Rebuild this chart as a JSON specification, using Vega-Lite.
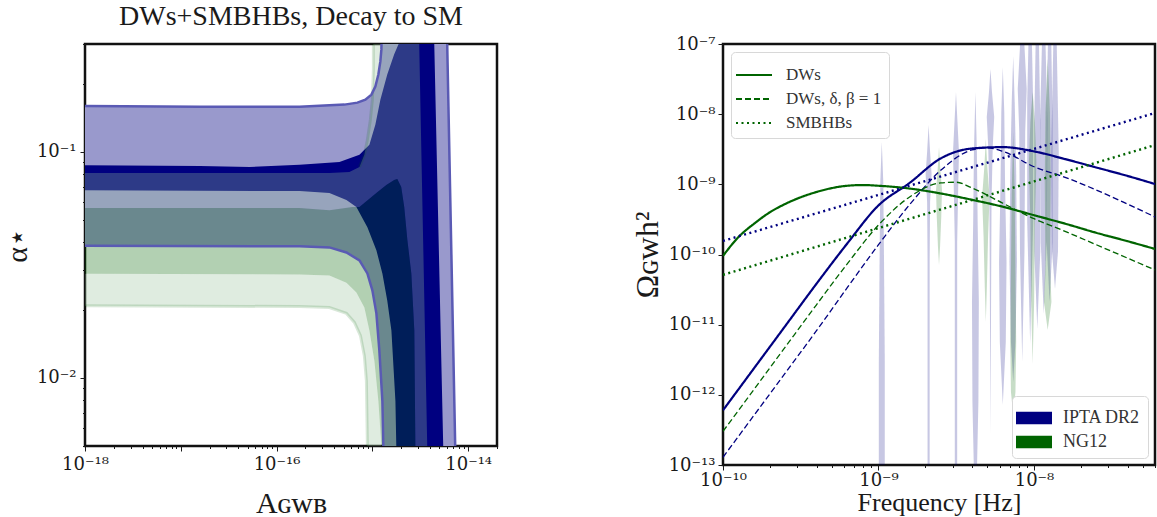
{
"$schema":"https://vega.github.io/schema/vega-lite/v6.json",
"background":"white",
"padding":{"left":1,"top":1,"right":0,"bottom":0},
"bounds":"flush",
"spacing":226,
"resolve":{"scale":{"fill":"independent","stroke":"independent","strokeDash":"independent"},"legend":{"fill":"independent","strokeDash":"independent"}},
"config":{
 "view":{"stroke":"#111111","strokeWidth":2.5},
 "font":"Liberation Serif",
 "axis":{"labelFont":"DejaVu Serif","titleFont":"Liberation Serif","labelFontSize":18,"titleFontSize":28,"titleFontWeight":"normal","labelColor":"#1a1a1a","titleColor":"#1a1a1a","tickColor":"#1a1a1a","domain":false,"grid":false,"labelOverlap":false,"labelFlush":false,"labelBound":false},
 "legend":{"labelFont":"Liberation Serif","labelFontSize":17,"labelColor":"#333333"}
},
"datasets":{
 "contours":[
  {"s":"B2","i":1,"A":1e-19,"a":0.1601},{"s":"B2","i":2,"A":1.578e-17,"a":0.1585},{"s":"B2","i":3,"A":1.738e-16,"a":0.1585},{"s":"B2","i":4,"A":5.11e-16,"a":0.1618},{"s":"B2","i":5,"A":6.98e-16,"a":0.1651},{"s":"B2","i":6,"A":8.45e-16,"a":0.1702},{"s":"B2","i":7,"A":9.77e-16,"a":0.1792},{"s":"B2","i":8,"A":1.074e-15,"a":0.1945},{"s":"B2","i":9,"A":1.155e-15,"a":0.2199},{"s":"B2","i":10,"A":1.212e-15,"a":0.2512},{"s":"B2","i":11,"A":1.242e-15,"a":0.284},{"s":"B2","i":12,"A":1.272e-15,"a":0.5},{"s":"B2","i":13,"A":5.9e-15,"a":0.5},{"s":"B2","i":14,"A":7.5e-15,"a":0.003},{"s":"B2","i":15,"A":1.334e-15,"a":0.003},{"s":"B2","i":16,"A":1.272e-15,"a":0.0079},{"s":"B2","i":17,"A":1.183e-15,"a":0.0132},{"s":"B2","i":18,"A":1.101e-15,"a":0.0193},{"s":"B2","i":19,"A":1.0e-15,"a":0.0244},{"s":"B2","i":20,"A":8.87e-16,"a":0.029},{"s":"B2","i":21,"A":7.33e-16,"a":0.0331},{"s":"B2","i":22,"A":5.36e-16,"a":0.0359},{"s":"B2","i":23,"A":3.56e-16,"a":0.0378},{"s":"B2","i":24,"A":1.738e-16,"a":0.0382},{"s":"B2","i":25,"A":1e-19,"a":0.0386},
  {"s":"B1","i":1,"A":1e-19,"a":0.0876},{"s":"B1","i":2,"A":1.578e-17,"a":0.0867},{"s":"B1","i":3,"A":5.24e-17,"a":0.0858},{"s":"B1","i":4,"A":1.738e-16,"a":0.0876},{"s":"B1","i":5,"A":4.53e-16,"a":0.0903},{"s":"B1","i":6,"A":7.33e-16,"a":0.097},{"s":"B1","i":7,"A":9.31e-16,"a":0.1074},{"s":"B1","i":8,"A":1.074e-15,"a":0.1318},{"s":"B1","i":9,"A":1.212e-15,"a":0.1702},{"s":"B1","i":10,"A":1.43e-15,"a":0.2199},{"s":"B1","i":11,"A":1.69e-15,"a":0.27},{"s":"B1","i":12,"A":1.91e-15,"a":0.305},{"s":"B1","i":13,"A":2.0e-15,"a":0.5},{"s":"B1","i":14,"A":4.31e-15,"a":0.5},{"s":"B1","i":15,"A":5.64e-15,"a":0.003},{"s":"B1","i":16,"A":1.82e-15,"a":0.003},{"s":"B1","i":17,"A":1.74e-15,"a":0.0079},{"s":"B1","i":18,"A":1.58e-15,"a":0.0162},{"s":"B1","i":19,"A":1.43e-15,"a":0.022},{"s":"B1","i":20,"A":1.272e-15,"a":0.029},{"s":"B1","i":21,"A":1.101e-15,"a":0.0367},{"s":"B1","i":22,"A":8.87e-16,"a":0.0464},{"s":"B1","i":23,"A":6.81e-16,"a":0.057},{"s":"B1","i":24,"A":5.36e-16,"a":0.0612},{"s":"B1","i":25,"A":3.56e-16,"a":0.0657},{"s":"B1","i":26,"A":1.738e-16,"a":0.0671},{"s":"B1","i":27,"A":1e-19,"a":0.0678},
  {"s":"G2U","i":1,"A":1e-19,"a":0.0807},{"s":"G2U","i":2,"A":3.56e-16,"a":0.0807},{"s":"G2U","i":3,"A":5.75e-16,"a":0.0815},{"s":"G2U","i":4,"A":7.33e-16,"a":0.0858},{"s":"G2U","i":5,"A":8.25e-16,"a":0.097},{"s":"G2U","i":6,"A":8.87e-16,"a":0.113},{"s":"G2U","i":7,"A":9.53e-16,"a":0.1388},{"s":"G2U","i":8,"A":1.0e-15,"a":0.1702},{"s":"G2U","i":9,"A":1.024e-15,"a":0.2314},{"s":"G2U","i":10,"A":1.024e-15,"a":0.5},{"s":"G2U","i":11,"A":3.01e-15,"a":0.5},{"s":"G2U","i":12,"A":3.83e-15,"a":0.003},{"s":"G2U","i":13,"A":2.81e-15,"a":0.003},{"s":"G2U","i":14,"A":2.81e-15,"a":0.00499},{"s":"G2U","i":15,"A":2.74e-15,"a":0.0162},{"s":"G2U","i":16,"A":2.55e-15,"a":0.029},{"s":"G2U","i":17,"A":2.32e-15,"a":0.0406},{"s":"G2U","i":18,"A":2.15e-15,"a":0.057},{"s":"G2U","i":19,"A":2.0e-15,"a":0.0699},{"s":"G2U","i":20,"A":1.82e-15,"a":0.0759},{"s":"G2U","i":21,"A":1.69e-15,"a":0.0751},{"s":"G2U","i":22,"A":1.4e-15,"a":0.0713},{"s":"G2U","i":23,"A":1.101e-15,"a":0.0657},{"s":"G2U","i":24,"A":7.33e-16,"a":0.057},{"s":"G2U","i":25,"A":6.19e-16,"a":0.057},{"s":"G2U","i":26,"A":3.56e-16,"a":0.0552},{"s":"G2U","i":27,"A":1.738e-16,"a":0.0564},{"s":"G2U","i":28,"A":1e-19,"a":0.0564},
  {"s":"G2L","i":1,"A":1e-19,"a":0.029},{"s":"G2L","i":2,"A":1.738e-16,"a":0.0287},{"s":"G2L","i":3,"A":3.56e-16,"a":0.0284},{"s":"G2L","i":4,"A":5.36e-16,"a":0.0264},{"s":"G2L","i":5,"A":6.81e-16,"a":0.0239},{"s":"G2L","i":6,"A":8.25e-16,"a":0.0205},{"s":"G2L","i":7,"A":9.31e-16,"a":0.0162},{"s":"G2L","i":8,"A":1.049e-15,"a":0.0119},{"s":"G2L","i":9,"A":1.155e-15,"a":0.0079},{"s":"G2L","i":10,"A":1.242e-15,"a":0.00499},{"s":"G2L","i":11,"A":1.242e-15,"a":0.003},{"s":"G2L","i":12,"A":8.87e-16,"a":0.003},{"s":"G2L","i":13,"A":8.87e-16,"a":0.00499},{"s":"G2L","i":14,"A":8.66e-16,"a":0.0097},{"s":"G2L","i":15,"A":8.25e-16,"a":0.0125},{"s":"G2L","i":16,"A":7.5e-16,"a":0.0154},{"s":"G2L","i":17,"A":6.49e-16,"a":0.0176},{"s":"G2L","i":18,"A":5.36e-16,"a":0.0193},{"s":"G2L","i":19,"A":3.56e-16,"a":0.0205},{"s":"G2L","i":20,"A":1.738e-16,"a":0.0207},{"s":"G2L","i":21,"A":1e-19,"a":0.0209},
  {"s":"G1","i":1,"A":1e-19,"a":0.0564},{"s":"G1","i":2,"A":1.738e-16,"a":0.0564},{"s":"G1","i":3,"A":3.56e-16,"a":0.0552},{"s":"G1","i":4,"A":6.19e-16,"a":0.057},{"s":"G1","i":5,"A":7.33e-16,"a":0.057},{"s":"G1","i":6,"A":1.101e-15,"a":0.0657},{"s":"G1","i":7,"A":1.4e-15,"a":0.0713},{"s":"G1","i":8,"A":1.69e-15,"a":0.0751},{"s":"G1","i":9,"A":1.82e-15,"a":0.0759},{"s":"G1","i":10,"A":2.0e-15,"a":0.0699},{"s":"G1","i":11,"A":2.15e-15,"a":0.057},{"s":"G1","i":12,"A":2.32e-15,"a":0.0406},{"s":"G1","i":13,"A":2.55e-15,"a":0.029},{"s":"G1","i":14,"A":2.74e-15,"a":0.0162},{"s":"G1","i":15,"A":2.81e-15,"a":0.00499},{"s":"G1","i":16,"A":2.81e-15,"a":0.003},{"s":"G1","i":17,"A":1.242e-15,"a":0.003},{"s":"G1","i":18,"A":1.242e-15,"a":0.00499},{"s":"G1","i":19,"A":1.155e-15,"a":0.0079},{"s":"G1","i":20,"A":1.049e-15,"a":0.0119},{"s":"G1","i":21,"A":9.31e-16,"a":0.0162},{"s":"G1","i":22,"A":8.25e-16,"a":0.0205},{"s":"G1","i":23,"A":6.81e-16,"a":0.0239},{"s":"G1","i":24,"A":5.36e-16,"a":0.0264},{"s":"G1","i":25,"A":3.56e-16,"a":0.0284},{"s":"G1","i":26,"A":1.738e-16,"a":0.0287},{"s":"G1","i":27,"A":1e-19,"a":0.029},
  {"s":"G2O1","i":1,"A":1e-19,"a":0.0209},{"s":"G2O1","i":2,"A":1.738e-16,"a":0.0207},{"s":"G2O1","i":3,"A":3.56e-16,"a":0.0205},{"s":"G2O1","i":4,"A":5.36e-16,"a":0.0193},{"s":"G2O1","i":5,"A":6.49e-16,"a":0.0176},{"s":"G2O1","i":6,"A":7.5e-16,"a":0.0154},{"s":"G2O1","i":7,"A":8.25e-16,"a":0.0125},{"s":"G2O1","i":8,"A":8.66e-16,"a":0.0097},{"s":"G2O1","i":9,"A":8.87e-16,"a":0.00499},{"s":"G2O1","i":10,"A":8.87e-16,"a":0.003},
  {"s":"G2O2","i":1,"A":7.33e-16,"a":0.0858},{"s":"G2O2","i":2,"A":8.25e-16,"a":0.097},{"s":"G2O2","i":3,"A":8.87e-16,"a":0.113},{"s":"G2O2","i":4,"A":9.53e-16,"a":0.1388},{"s":"G2O2","i":5,"A":1.0e-15,"a":0.1702},{"s":"G2O2","i":6,"A":1.024e-15,"a":0.2314},{"s":"G2O2","i":7,"A":1.024e-15,"a":0.5}
 ],
 "curves":[
  {"set":"IPTA DR2","model":"DWs","f":1e-10,"o":6.03e-13},{"set":"IPTA DR2","model":"DWs","f":1.585e-10,"o":2.4e-12},{"set":"IPTA DR2","model":"DWs","f":2.512e-10,"o":9.55e-12},{"set":"IPTA DR2","model":"DWs","f":3.981e-10,"o":3.8e-11},{"set":"IPTA DR2","model":"DWs","f":6.31e-10,"o":1.445e-10},{"set":"IPTA DR2","model":"DWs","f":1e-9,"o":5.01e-10},{"set":"IPTA DR2","model":"DWs","f":1.585e-9,"o":1.047e-9},{"set":"IPTA DR2","model":"DWs","f":2.512e-9,"o":2.34e-9},{"set":"IPTA DR2","model":"DWs","f":3.981e-9,"o":3.24e-9},{"set":"IPTA DR2","model":"DWs","f":6.31e-9,"o":3.39e-9},{"set":"IPTA DR2","model":"DWs","f":1e-8,"o":2.95e-9},{"set":"IPTA DR2","model":"DWs","f":1.585e-8,"o":2.29e-9},{"set":"IPTA DR2","model":"DWs","f":2.512e-8,"o":1.74e-9},{"set":"IPTA DR2","model":"DWs","f":3.981e-8,"o":1.32e-9},{"set":"IPTA DR2","model":"DWs","f":6e-8,"o":1.01e-9},
  {"set":"IPTA DR2","model":"DWs, δ, β = 1","f":1e-10,"o":1.29e-13},{"set":"IPTA DR2","model":"DWs, δ, β = 1","f":1.585e-10,"o":5.13e-13},{"set":"IPTA DR2","model":"DWs, δ, β = 1","f":2.512e-10,"o":2.04e-12},{"set":"IPTA DR2","model":"DWs, δ, β = 1","f":3.981e-10,"o":8.13e-12},{"set":"IPTA DR2","model":"DWs, δ, β = 1","f":6.31e-10,"o":3.39e-11},{"set":"IPTA DR2","model":"DWs, δ, β = 1","f":1e-9,"o":1.38e-10},{"set":"IPTA DR2","model":"DWs, δ, β = 1","f":1.585e-9,"o":5.13e-10},{"set":"IPTA DR2","model":"DWs, δ, β = 1","f":2.512e-9,"o":1.585e-9},{"set":"IPTA DR2","model":"DWs, δ, β = 1","f":3.981e-9,"o":3.09e-9},{"set":"IPTA DR2","model":"DWs, δ, β = 1","f":5.012e-9,"o":3.31e-9},{"set":"IPTA DR2","model":"DWs, δ, β = 1","f":6.31e-9,"o":2.95e-9},{"set":"IPTA DR2","model":"DWs, δ, β = 1","f":1e-8,"o":1.78e-9},{"set":"IPTA DR2","model":"DWs, δ, β = 1","f":1.585e-8,"o":1.26e-9},{"set":"IPTA DR2","model":"DWs, δ, β = 1","f":2.512e-8,"o":8.32e-10},{"set":"IPTA DR2","model":"DWs, δ, β = 1","f":3.981e-8,"o":5.25e-10},{"set":"IPTA DR2","model":"DWs, δ, β = 1","f":6e-8,"o":3.43e-10},
  {"set":"IPTA DR2","model":"SMBHBs","f":1e-10,"o":1.56e-10},{"set":"IPTA DR2","model":"SMBHBs","f":1e-9,"o":7.06e-10},{"set":"IPTA DR2","model":"SMBHBs","f":1e-8,"o":3.2e-9},{"set":"IPTA DR2","model":"SMBHBs","f":6e-8,"o":1.04e-8},
  {"set":"NG12","model":"DWs","f":1e-10,"o":9.55e-11},{"set":"NG12","model":"DWs","f":1.259e-10,"o":1.778e-10},{"set":"NG12","model":"DWs","f":1.585e-10,"o":2.75e-10},{"set":"NG12","model":"DWs","f":1.995e-10,"o":3.98e-10},{"set":"NG12","model":"DWs","f":2.512e-10,"o":5.25e-10},{"set":"NG12","model":"DWs","f":3.981e-10,"o":7.76e-10},{"set":"NG12","model":"DWs","f":6.31e-10,"o":9.55e-10},{"set":"NG12","model":"DWs","f":7.943e-10,"o":9.77e-10},{"set":"NG12","model":"DWs","f":1e-9,"o":9.55e-10},{"set":"NG12","model":"DWs","f":1.585e-9,"o":8.71e-10},{"set":"NG12","model":"DWs","f":2.512e-9,"o":7.41e-10},{"set":"NG12","model":"DWs","f":3.981e-9,"o":6.03e-10},{"set":"NG12","model":"DWs","f":6.31e-9,"o":4.79e-10},{"set":"NG12","model":"DWs","f":1e-8,"o":3.63e-10},{"set":"NG12","model":"DWs","f":1.585e-8,"o":2.75e-10},{"set":"NG12","model":"DWs","f":2.512e-8,"o":2.04e-10},{"set":"NG12","model":"DWs","f":3.981e-8,"o":1.55e-10},{"set":"NG12","model":"DWs","f":6e-8,"o":1.2e-10},
  {"set":"NG12","model":"DWs, δ, β = 1","f":1e-10,"o":3.02e-13},{"set":"NG12","model":"DWs, δ, β = 1","f":1.585e-10,"o":1.2e-12},{"set":"NG12","model":"DWs, δ, β = 1","f":2.512e-10,"o":4.79e-12},{"set":"NG12","model":"DWs, δ, β = 1","f":3.981e-10,"o":1.905e-11},{"set":"NG12","model":"DWs, δ, β = 1","f":6.31e-10,"o":7.41e-11},{"set":"NG12","model":"DWs, δ, β = 1","f":1e-9,"o":2.63e-10},{"set":"NG12","model":"DWs, δ, β = 1","f":1.585e-9,"o":6.61e-10},{"set":"NG12","model":"DWs, δ, β = 1","f":2.512e-9,"o":1.047e-9},{"set":"NG12","model":"DWs, δ, β = 1","f":3.162e-9,"o":1.072e-9},{"set":"NG12","model":"DWs, δ, β = 1","f":3.981e-9,"o":8.91e-10},{"set":"NG12","model":"DWs, δ, β = 1","f":6.31e-9,"o":5.37e-10},{"set":"NG12","model":"DWs, δ, β = 1","f":1e-8,"o":3.24e-10},{"set":"NG12","model":"DWs, δ, β = 1","f":1.585e-8,"o":2.14e-10},{"set":"NG12","model":"DWs, δ, β = 1","f":2.512e-8,"o":1.38e-10},{"set":"NG12","model":"DWs, δ, β = 1","f":3.981e-8,"o":8.91e-11},{"set":"NG12","model":"DWs, δ, β = 1","f":6e-8,"o":6.03e-11},
  {"set":"NG12","model":"SMBHBs","f":1e-10,"o":5.13e-11},{"set":"NG12","model":"SMBHBs","f":1e-9,"o":2.38e-10},{"set":"NG12","model":"SMBHBs","f":1e-8,"o":1.1e-9},{"set":"NG12","model":"SMBHBs","f":6e-8,"o":3.63e-9}
 ],
 "violins":[
  {"v":"b1","set":"IPTA DR2","i":1,"f":1.05e-9,"o":4.01e-9},{"v":"b1","set":"IPTA DR2","i":2,"f":1.0735e-9,"o":1.08e-9},{"v":"b1","set":"IPTA DR2","i":3,"f":1.0855e-9,"o":7.82e-11},{"v":"b1","set":"IPTA DR2","i":4,"f":1.0976e-9,"o":2.94e-12},{"v":"b1","set":"IPTA DR2","i":5,"f":1.0976e-9,"o":7.96e-14},{"v":"b1","set":"IPTA DR2","i":6,"f":1.0045e-9,"o":7.96e-14},{"v":"b1","set":"IPTA DR2","i":7,"f":1.0045e-9,"o":2.94e-12},{"v":"b1","set":"IPTA DR2","i":8,"f":1.0157e-9,"o":7.82e-11},{"v":"b1","set":"IPTA DR2","i":9,"f":1.027e-9,"o":1.08e-9},
  {"v":"b2","set":"IPTA DR2","i":1,"f":2.1e-9,"o":7.01e-9},{"v":"b2","set":"IPTA DR2","i":2,"f":2.147e-9,"o":2.89e-9},{"v":"b2","set":"IPTA DR2","i":3,"f":2.1951e-9,"o":1.4e-9},{"v":"b2","set":"IPTA DR2","i":4,"f":2.147e-9,"o":5.6e-10},{"v":"b2","set":"IPTA DR2","i":5,"f":2.1328e-9,"o":7.82e-11},{"v":"b2","set":"IPTA DR2","i":6,"f":2.1328e-9,"o":7.96e-14},{"v":"b2","set":"IPTA DR2","i":7,"f":2.0677e-9,"o":7.96e-14},{"v":"b2","set":"IPTA DR2","i":8,"f":2.0677e-9,"o":7.82e-11},{"v":"b2","set":"IPTA DR2","i":9,"f":2.054e-9,"o":5.6e-10},{"v":"b2","set":"IPTA DR2","i":10,"f":2.0091e-9,"o":1.4e-9},{"v":"b2","set":"IPTA DR2","i":11,"f":2.054e-9,"o":2.89e-9},
  {"v":"b3","set":"IPTA DR2","i":1,"f":3.15e-9,"o":2.07e-8},{"v":"b3","set":"IPTA DR2","i":2,"f":3.2206e-9,"o":7.73e-9},{"v":"b3","set":"IPTA DR2","i":3,"f":3.2927e-9,"o":2.89e-9},{"v":"b3","set":"IPTA DR2","i":4,"f":3.2565e-9,"o":9.16e-10},{"v":"b3","set":"IPTA DR2","i":5,"f":3.2064e-9,"o":1.51e-10},{"v":"b3","set":"IPTA DR2","i":6,"f":3.2064e-9,"o":7.96e-14},{"v":"b3","set":"IPTA DR2","i":7,"f":3.0946e-9,"o":7.96e-14},{"v":"b3","set":"IPTA DR2","i":8,"f":3.0946e-9,"o":1.51e-10},{"v":"b3","set":"IPTA DR2","i":9,"f":3.047e-9,"o":9.16e-10},{"v":"b3","set":"IPTA DR2","i":10,"f":3.0136e-9,"o":2.89e-9},{"v":"b3","set":"IPTA DR2","i":11,"f":3.081e-9,"o":7.73e-9},
  {"v":"b4","set":"IPTA DR2","i":1,"f":4.2e-9,"o":2.07e-8},{"v":"b4","set":"IPTA DR2","i":2,"f":4.2941e-9,"o":2.89e-9},{"v":"b4","set":"IPTA DR2","i":3,"f":4.342e-9,"o":2.9e-10},{"v":"b4","set":"IPTA DR2","i":4,"f":4.4197e-9,"o":2.1e-11},{"v":"b4","set":"IPTA DR2","i":5,"f":4.3903e-9,"o":7.91e-13},{"v":"b4","set":"IPTA DR2","i":6,"f":4.2941e-9,"o":7.96e-14},{"v":"b4","set":"IPTA DR2","i":7,"f":4.108e-9,"o":7.96e-14},{"v":"b4","set":"IPTA DR2","i":8,"f":4.0181e-9,"o":7.91e-13},{"v":"b4","set":"IPTA DR2","i":9,"f":3.9913e-9,"o":2.1e-11},{"v":"b4","set":"IPTA DR2","i":10,"f":4.0627e-9,"o":2.9e-10},{"v":"b4","set":"IPTA DR2","i":11,"f":4.108e-9,"o":2.89e-9},
  {"v":"b5","set":"IPTA DR2","i":1,"f":5.25e-9,"o":4.41e-8},{"v":"b5","set":"IPTA DR2","i":2,"f":5.3676e-9,"o":2.07e-8},{"v":"b5","set":"IPTA DR2","i":3,"f":5.5487e-9,"o":9.12e-9},{"v":"b5","set":"IPTA DR2","i":4,"f":5.4275e-9,"o":3.4e-9},{"v":"b5","set":"IPTA DR2","i":5,"f":5.3319e-9,"o":5.6e-10},{"v":"b5","set":"IPTA DR2","i":6,"f":5.25e-9,"o":2.77e-13},{"v":"b5","set":"IPTA DR2","i":7,"f":5.1692e-9,"o":5.6e-10},{"v":"b5","set":"IPTA DR2","i":8,"f":5.0783e-9,"o":3.4e-9},{"v":"b5","set":"IPTA DR2","i":9,"f":4.967e-9,"o":9.12e-9},{"v":"b5","set":"IPTA DR2","i":10,"f":5.135e-9,"o":2.07e-8},
  {"v":"b6","set":"IPTA DR2","i":1,"f":6.3e-9,"o":4.7e-8},{"v":"b6","set":"IPTA DR2","i":2,"f":6.4411e-9,"o":1.07e-8},{"v":"b6","set":"IPTA DR2","i":3,"f":6.5129e-9,"o":1.08e-9},{"v":"b6","set":"IPTA DR2","i":4,"f":6.6585e-9,"o":7.82e-11},{"v":"b6","set":"IPTA DR2","i":5,"f":6.5854e-9,"o":5.66e-12},{"v":"b6","set":"IPTA DR2","i":6,"f":6.3e-9,"o":7.16e-13},{"v":"b6","set":"IPTA DR2","i":7,"f":6.0272e-9,"o":5.66e-12},{"v":"b6","set":"IPTA DR2","i":8,"f":5.9604e-9,"o":7.82e-11},{"v":"b6","set":"IPTA DR2","i":9,"f":6.094e-9,"o":1.08e-9},{"v":"b6","set":"IPTA DR2","i":10,"f":6.162e-9,"o":1.07e-8},
  {"v":"b7","set":"IPTA DR2","i":1,"f":7.35e-9,"o":6.75e-8},{"v":"b7","set":"IPTA DR2","i":2,"f":7.5146e-9,"o":1.49e-8},{"v":"b7","set":"IPTA DR2","i":3,"f":7.683e-9,"o":1.5e-9},{"v":"b7","set":"IPTA DR2","i":4,"f":7.7682e-9,"o":7.82e-11},{"v":"b7","set":"IPTA DR2","i":5,"f":7.5984e-9,"o":5.66e-12},{"v":"b7","set":"IPTA DR2","i":6,"f":7.35e-9,"o":1.52e-12},{"v":"b7","set":"IPTA DR2","i":7,"f":7.1097e-9,"o":5.66e-12},{"v":"b7","set":"IPTA DR2","i":8,"f":6.9538e-9,"o":7.82e-11},{"v":"b7","set":"IPTA DR2","i":9,"f":7.0317e-9,"o":1.5e-9},{"v":"b7","set":"IPTA DR2","i":10,"f":7.189e-9,"o":1.49e-8},
  {"v":"b8","set":"IPTA DR2","i":1,"f":8.5882e-9,"o":1.48e-7},{"v":"b8","set":"IPTA DR2","i":2,"f":8.9771e-9,"o":2.29e-8},{"v":"b8","set":"IPTA DR2","i":3,"f":8.7805e-9,"o":5.57e-9},{"v":"b8","set":"IPTA DR2","i":4,"f":8.6839e-9,"o":1.09e-10},{"v":"b8","set":"IPTA DR2","i":5,"f":8.4e-9,"o":2.94e-12},{"v":"b8","set":"IPTA DR2","i":6,"f":8.1253e-9,"o":1.09e-10},{"v":"b8","set":"IPTA DR2","i":7,"f":8.0363e-9,"o":5.57e-9},{"v":"b8","set":"IPTA DR2","i":8,"f":7.86e-9,"o":2.29e-8},{"v":"b8","set":"IPTA DR2","i":9,"f":8.216e-9,"o":1.48e-7},
  {"v":"b9","set":"IPTA DR2","i":1,"f":9.6617e-9,"o":1.48e-7},{"v":"b9","set":"IPTA DR2","i":2,"f":9.8781e-9,"o":1.49e-8},{"v":"b9","set":"IPTA DR2","i":3,"f":9.8781e-9,"o":2.9e-10},{"v":"b9","set":"IPTA DR2","i":4,"f":9.45e-9,"o":5.31e-12},{"v":"b9","set":"IPTA DR2","i":5,"f":9.0408e-9,"o":2.9e-10},{"v":"b9","set":"IPTA DR2","i":6,"f":9.0408e-9,"o":1.49e-8},{"v":"b9","set":"IPTA DR2","i":7,"f":9.243e-9,"o":1.48e-7},
  {"v":"b10","set":"IPTA DR2","i":1,"f":1.0735e-8,"o":1.48e-7},{"v":"b10","set":"IPTA DR2","i":2,"f":1.0976e-8,"o":7.73e-9},{"v":"b10","set":"IPTA DR2","i":3,"f":1.0976e-8,"o":1.09e-10},{"v":"b10","set":"IPTA DR2","i":4,"f":1.05e-8,"o":8.67e-12},{"v":"b10","set":"IPTA DR2","i":5,"f":1.0045e-8,"o":1.09e-10},{"v":"b10","set":"IPTA DR2","i":6,"f":1.0045e-8,"o":7.73e-9},{"v":"b10","set":"IPTA DR2","i":7,"f":1.027e-8,"o":1.48e-7},
  {"v":"b11","set":"IPTA DR2","i":1,"f":1.1809e-8,"o":1.48e-7},{"v":"b11","set":"IPTA DR2","i":2,"f":1.2207e-8,"o":7.73e-9},{"v":"b11","set":"IPTA DR2","i":3,"f":1.2073e-8,"o":1.51e-10},{"v":"b11","set":"IPTA DR2","i":4,"f":1.155e-8,"o":1.42e-11},{"v":"b11","set":"IPTA DR2","i":5,"f":1.105e-8,"o":1.51e-10},{"v":"b11","set":"IPTA DR2","i":6,"f":1.0927e-8,"o":7.73e-9},{"v":"b11","set":"IPTA DR2","i":7,"f":1.1297e-8,"o":1.48e-7},
  {"v":"b12","set":"IPTA DR2","i":1,"f":1.2882e-8,"o":1.48e-7},{"v":"b12","set":"IPTA DR2","i":2,"f":1.3171e-8,"o":7.73e-9},{"v":"b12","set":"IPTA DR2","i":3,"f":1.3171e-8,"o":1.51e-10},{"v":"b12","set":"IPTA DR2","i":4,"f":1.26e-8,"o":2.1e-11},{"v":"b12","set":"IPTA DR2","i":5,"f":1.2054e-8,"o":1.51e-10},{"v":"b12","set":"IPTA DR2","i":6,"f":1.2054e-8,"o":7.73e-9},{"v":"b12","set":"IPTA DR2","i":7,"f":1.2324e-8,"o":1.48e-7},
  {"v":"b13","set":"IPTA DR2","i":1,"f":1.3956e-8,"o":1.48e-7},{"v":"b13","set":"IPTA DR2","i":2,"f":1.4427e-8,"o":2.89e-9},{"v":"b13","set":"IPTA DR2","i":3,"f":1.4268e-8,"o":1.09e-10},{"v":"b13","set":"IPTA DR2","i":4,"f":1.365e-8,"o":3.22e-11},{"v":"b13","set":"IPTA DR2","i":5,"f":1.3059e-8,"o":1.09e-10},{"v":"b13","set":"IPTA DR2","i":6,"f":1.2914e-8,"o":2.89e-9},{"v":"b13","set":"IPTA DR2","i":7,"f":1.3351e-8,"o":1.48e-7},
  {"v":"g1","set":"NG12","i":1,"f":2.45e-9,"o":3.4e-9},{"v":"g1","set":"NG12","i":2,"f":2.5049e-9,"o":1.5e-9},{"v":"g1","set":"NG12","i":3,"f":2.561e-9,"o":8.3e-10},{"v":"g1","set":"NG12","i":4,"f":2.5328e-9,"o":3.43e-10},{"v":"g1","set":"NG12","i":5,"f":2.4882e-9,"o":1.28e-10},{"v":"g1","set":"NG12","i":6,"f":2.45e-9,"o":7.1e-11},{"v":"g1","set":"NG12","i":7,"f":2.4123e-9,"o":1.28e-10},{"v":"g1","set":"NG12","i":8,"f":2.3699e-9,"o":3.43e-10},{"v":"g1","set":"NG12","i":9,"f":2.3439e-9,"o":8.3e-10},{"v":"g1","set":"NG12","i":10,"f":2.3963e-9,"o":1.5e-9},
  {"v":"g2","set":"NG12","i":1,"f":4.9e-9,"o":4.43e-9},{"v":"g2","set":"NG12","i":2,"f":5.0098e-9,"o":1.77e-9},{"v":"g2","set":"NG12","i":3,"f":5.1788e-9,"o":6.61e-10},{"v":"g2","set":"NG12","i":4,"f":5.0656e-9,"o":1.78e-10},{"v":"g2","set":"NG12","i":5,"f":4.9764e-9,"o":3.44e-11},{"v":"g2","set":"NG12","i":6,"f":4.9e-9,"o":1.09e-11},{"v":"g2","set":"NG12","i":7,"f":4.8245e-9,"o":3.44e-11},{"v":"g2","set":"NG12","i":8,"f":4.7398e-9,"o":1.78e-10},{"v":"g2","set":"NG12","i":9,"f":4.6359e-9,"o":6.61e-10},{"v":"g2","set":"NG12","i":10,"f":4.7927e-9,"o":1.77e-9},
  {"v":"g3","set":"NG12","i":1,"f":7.35e-9,"o":5.57e-9},{"v":"g3","set":"NG12","i":2,"f":7.5146e-9,"o":7.78e-10},{"v":"g3","set":"NG12","i":3,"f":7.5984e-9,"o":5.64e-11},{"v":"g3","set":"NG12","i":4,"f":7.683e-9,"o":5.66e-12},{"v":"g3","set":"NG12","i":5,"f":7.5984e-9,"o":1.1e-12},{"v":"g3","set":"NG12","i":6,"f":7.35e-9,"o":5.16e-13},{"v":"g3","set":"NG12","i":7,"f":7.1097e-9,"o":1.1e-12},{"v":"g3","set":"NG12","i":8,"f":7.0317e-9,"o":5.66e-12},{"v":"g3","set":"NG12","i":9,"f":7.1097e-9,"o":5.64e-11},{"v":"g3","set":"NG12","i":10,"f":7.189e-9,"o":7.78e-10},
  {"v":"g4","set":"NG12","i":1,"f":9.8e-9,"o":2.07e-8},{"v":"g4","set":"NG12","i":2,"f":1.0131e-8,"o":7.73e-9},{"v":"g4","set":"NG12","i":3,"f":1.0358e-8,"o":2.08e-9},{"v":"g4","set":"NG12","i":4,"f":1.0131e-8,"o":2.9e-10},{"v":"g4","set":"NG12","i":5,"f":1.002e-8,"o":2.1e-11},{"v":"g4","set":"NG12","i":6,"f":9.8e-9,"o":2.75e-12},{"v":"g4","set":"NG12","i":7,"f":9.585e-9,"o":2.1e-11},{"v":"g4","set":"NG12","i":8,"f":9.4795e-9,"o":2.9e-10},{"v":"g4","set":"NG12","i":9,"f":9.2718e-9,"o":2.08e-9},{"v":"g4","set":"NG12","i":10,"f":9.4795e-9,"o":7.73e-9},
  {"v":"g5","set":"NG12","i":1,"f":1.225e-8,"o":6.11e-8},{"v":"g5","set":"NG12","i":2,"f":1.2664e-8,"o":1.07e-8},{"v":"g5","set":"NG12","i":3,"f":1.2805e-8,"o":1.08e-9},{"v":"g5","set":"NG12","i":4,"f":1.2664e-8,"o":7.82e-11},{"v":"g5","set":"NG12","i":5,"f":1.2947e-8,"o":2.1e-11},{"v":"g5","set":"NG12","i":6,"f":1.225e-8,"o":8.39e-12},{"v":"g5","set":"NG12","i":7,"f":1.159e-8,"o":2.1e-11},{"v":"g5","set":"NG12","i":8,"f":1.1849e-8,"o":7.82e-11},{"v":"g5","set":"NG12","i":9,"f":1.172e-8,"o":1.08e-9},{"v":"g5","set":"NG12","i":10,"f":1.1849e-8,"o":1.07e-8}
 ]
},
"hconcat":[
 {
  "width":412,"height":402,
  "title":{"text":"DWs+SMBHBs, Decay to SM","fontSize":28,"font":"Liberation Serif","fontWeight":"normal","color":"#1a1a1a","offset":4},
  "data":{"name":"contours"},
  "encoding":{
   "x":{"field":"A","type":"quantitative","scale":{"type":"log","domain":[1e-18,2e-14],"nice":false},
    "axis":{"title":"Aɢᴡʙ","titleFontSize":30,"titlePadding":15,"labelPadding":4,
     "values":[1e-18,2e-18,3e-18,4e-18,5e-18,6e-18,7e-18,8e-18,9e-18,1e-17,2e-17,3e-17,4e-17,5e-17,6e-17,7e-17,8e-17,9e-17,1e-16,2e-16,3e-16,4e-16,5e-16,6e-16,7e-16,8e-16,9e-16,1e-15,2e-15,3e-15,4e-15,5e-15,6e-15,7e-15,8e-15,9e-15,1e-14,2e-14],
     "labelExpr":"datum.value == 1e-18 ? '10⁻¹⁸' : datum.value == 1e-16 ? '10⁻¹⁶' : datum.value == 1e-14 ? '10⁻¹⁴' : ''",
     "tickSize":{"condition":{"test":"indexof([1e-18,1e-17,1e-16,1e-15,1e-14], datum.value) >= 0","value":5},"value":2.5}}},
   "y":{"field":"a","type":"quantitative","scale":{"type":"log","domain":[0.005,0.3],"nice":false},
    "axis":{"title":"α⋆","titleFontSize":30,"titlePadding":4,"labelPadding":4,
     "values":[0.005,0.006,0.007,0.008,0.009,0.01,0.02,0.03,0.04,0.05,0.06,0.07,0.08,0.09,0.1,0.2,0.3],
     "labelExpr":"datum.value == 0.1 ? '10⁻¹' : datum.value == 0.01 ? '10⁻²' : ''",
     "tickSize":{"condition":{"test":"datum.value == 0.1 || datum.value == 0.01","value":5},"value":2.5}}},
   "order":{"field":"i","type":"quantitative"}
  },
  "layer":[
   {"transform":[{"filter":"datum.s == 'B2'"}],"mark":{"type":"line","fill":"#9999cc","strokeWidth":0,"clip":true}},
   {"transform":[{"filter":"datum.s == 'B1'"}],"mark":{"type":"line","fill":"#000080","strokeWidth":0,"clip":true}},
   {"transform":[{"filter":"datum.s == 'G2U' || datum.s == 'G2L'"}],"mark":{"type":"line","fill":"#96c098","fillOpacity":0.3,"strokeWidth":0,"clip":true},"encoding":{"detail":{"field":"s","type":"nominal"}}},
   {"transform":[{"filter":"datum.s == 'G1'"}],"mark":{"type":"line","fill":"#006400","fillOpacity":0.3,"strokeWidth":0,"clip":true}},
   {"transform":[{"filter":"datum.s == 'G2O1' || datum.s == 'G2O2'"}],"mark":{"type":"line","stroke":"#006400","strokeOpacity":0.15,"strokeWidth":3,"clip":true},"encoding":{"detail":{"field":"s","type":"nominal"}}},
   {"transform":[{"filter":"datum.s == 'B2'"}],"mark":{"type":"line","stroke":"#5a5ab4","strokeWidth":2.5,"clip":true}}
  ]
 },
 {
  "width":432,"height":421,
  "encoding":{
   "x":{"field":"f","type":"quantitative","scale":{"type":"log","domain":[1e-10,6e-8],"nice":false},
    "axis":{"title":"Frequency [Hz]","titleFontSize":26,"titlePadding":0,"labelPadding":1,
     "values":[1e-10,2e-10,3e-10,4e-10,5e-10,6e-10,7e-10,8e-10,9e-10,1e-9,2e-9,3e-9,4e-9,5e-9,6e-9,7e-9,8e-9,9e-9,1e-8,2e-8,3e-8,4e-8,5e-8,6e-8],
     "labelExpr":"datum.value == 1e-10 ? '10⁻¹⁰' : datum.value == 1e-9 ? '10⁻⁹' : datum.value == 1e-8 ? '10⁻⁸' : ''",
     "tickSize":{"condition":{"test":"datum.value == 1e-10 || datum.value == 1e-9 || datum.value == 1e-8","value":5},"value":2.5}}},
   "y":{"field":"o","type":"quantitative","scale":{"type":"log","domain":[1e-13,1e-7],"nice":false},
    "axis":{"title":"Ωɢᴡh²","titleFontSize":32,"titlePadding":4,"labelPadding":3,
     "values":[1e-13,1e-12,1e-11,1e-10,1e-9,1e-8,1e-7],
     "labelExpr":"datum.value == 1e-7 ? '10⁻⁷' : datum.value == 1e-8 ? '10⁻⁸' : datum.value == 1e-9 ? '10⁻⁹' : datum.value == 1e-10 ? '10⁻¹⁰' : datum.value == 1e-11 ? '10⁻¹¹' : datum.value == 1e-12 ? '10⁻¹²' : '10⁻¹³'",
     "tickSize":5}}
  },
  "layer":[
   {"data":{"name":"violins"},
    "mark":{"type":"line","fillOpacity":0.22,"strokeWidth":0,"clip":true},
    "encoding":{
     "fill":{"field":"set","type":"nominal","scale":{"domain":["IPTA DR2","NG12"],"range":["#000080","#006400"]},
      "legend":{"title":null,"orient":"bottom-right","offset":7,"symbolType":"M-1.2,-0.42H1.2V0.42H-1.2Z","symbolSize":900,"symbolStrokeWidth":0,"symbolOpacity":1,"labelFontSize":18,"fillColor":"white","strokeColor":"#d8d8d8","cornerRadius":4,"padding":7,"rowPadding":0,"labelOffset":14,
       "encode":{"symbols":{"update":{"fillOpacity":{"value":1},"opacity":{"value":1}}}}}},
     "detail":{"field":"v","type":"nominal"},
     "order":{"field":"i","type":"quantitative"}
    }},
   {"data":{"name":"curves"},"transform":[{"filter":"datum.model == 'DWs'"}],
    "mark":{"type":"line","clip":true,"interpolate":"monotone","strokeWidth":2.2},
    "encoding":{
     "stroke":{"field":"set","type":"nominal","scale":{"domain":["IPTA DR2","NG12"],"range":["#000080","#006400"]},"legend":null},
     "strokeDash":{"field":"model","type":"nominal","scale":{"domain":["DWs","DWs, δ, β = 1","SMBHBs"],"range":[[1,0],[6,3],[2,3.5]]},
      "legend":{"title":null,"orient":"top-left","offset":8,"symbolType":"M-1.2,0H1.2","symbolStrokeColor":"#006400","symbolStrokeWidth":1.8,"symbolSize":900,"labelFontSize":17,"fillColor":"white","strokeColor":"#d8d8d8","cornerRadius":4,"padding":7,"rowPadding":0,"labelOffset":16}}
    }},
   {"data":{"name":"curves"},"transform":[{"filter":"datum.model == 'DWs, δ, β = 1'"}],
    "mark":{"type":"line","clip":true,"interpolate":"monotone","strokeWidth":1.3},
    "encoding":{
     "stroke":{"field":"set","type":"nominal","scale":{"domain":["IPTA DR2","NG12"],"range":["#000080","#006400"]},"legend":null},
     "strokeDash":{"field":"model","type":"nominal","scale":{"domain":["DWs","DWs, δ, β = 1","SMBHBs"],"range":[[1,0],[6,3],[2,3.5]]}}
    }},
   {"data":{"name":"curves"},"transform":[{"filter":"datum.model == 'SMBHBs'"}],
    "mark":{"type":"line","clip":true,"strokeWidth":2.4},
    "encoding":{
     "stroke":{"field":"set","type":"nominal","scale":{"domain":["IPTA DR2","NG12"],"range":["#000080","#006400"]},"legend":null},
     "strokeDash":{"field":"model","type":"nominal","scale":{"domain":["DWs","DWs, δ, β = 1","SMBHBs"],"range":[[1,0],[6,3],[2,3.5]]}}
    }}
  ]
 }
]
}
